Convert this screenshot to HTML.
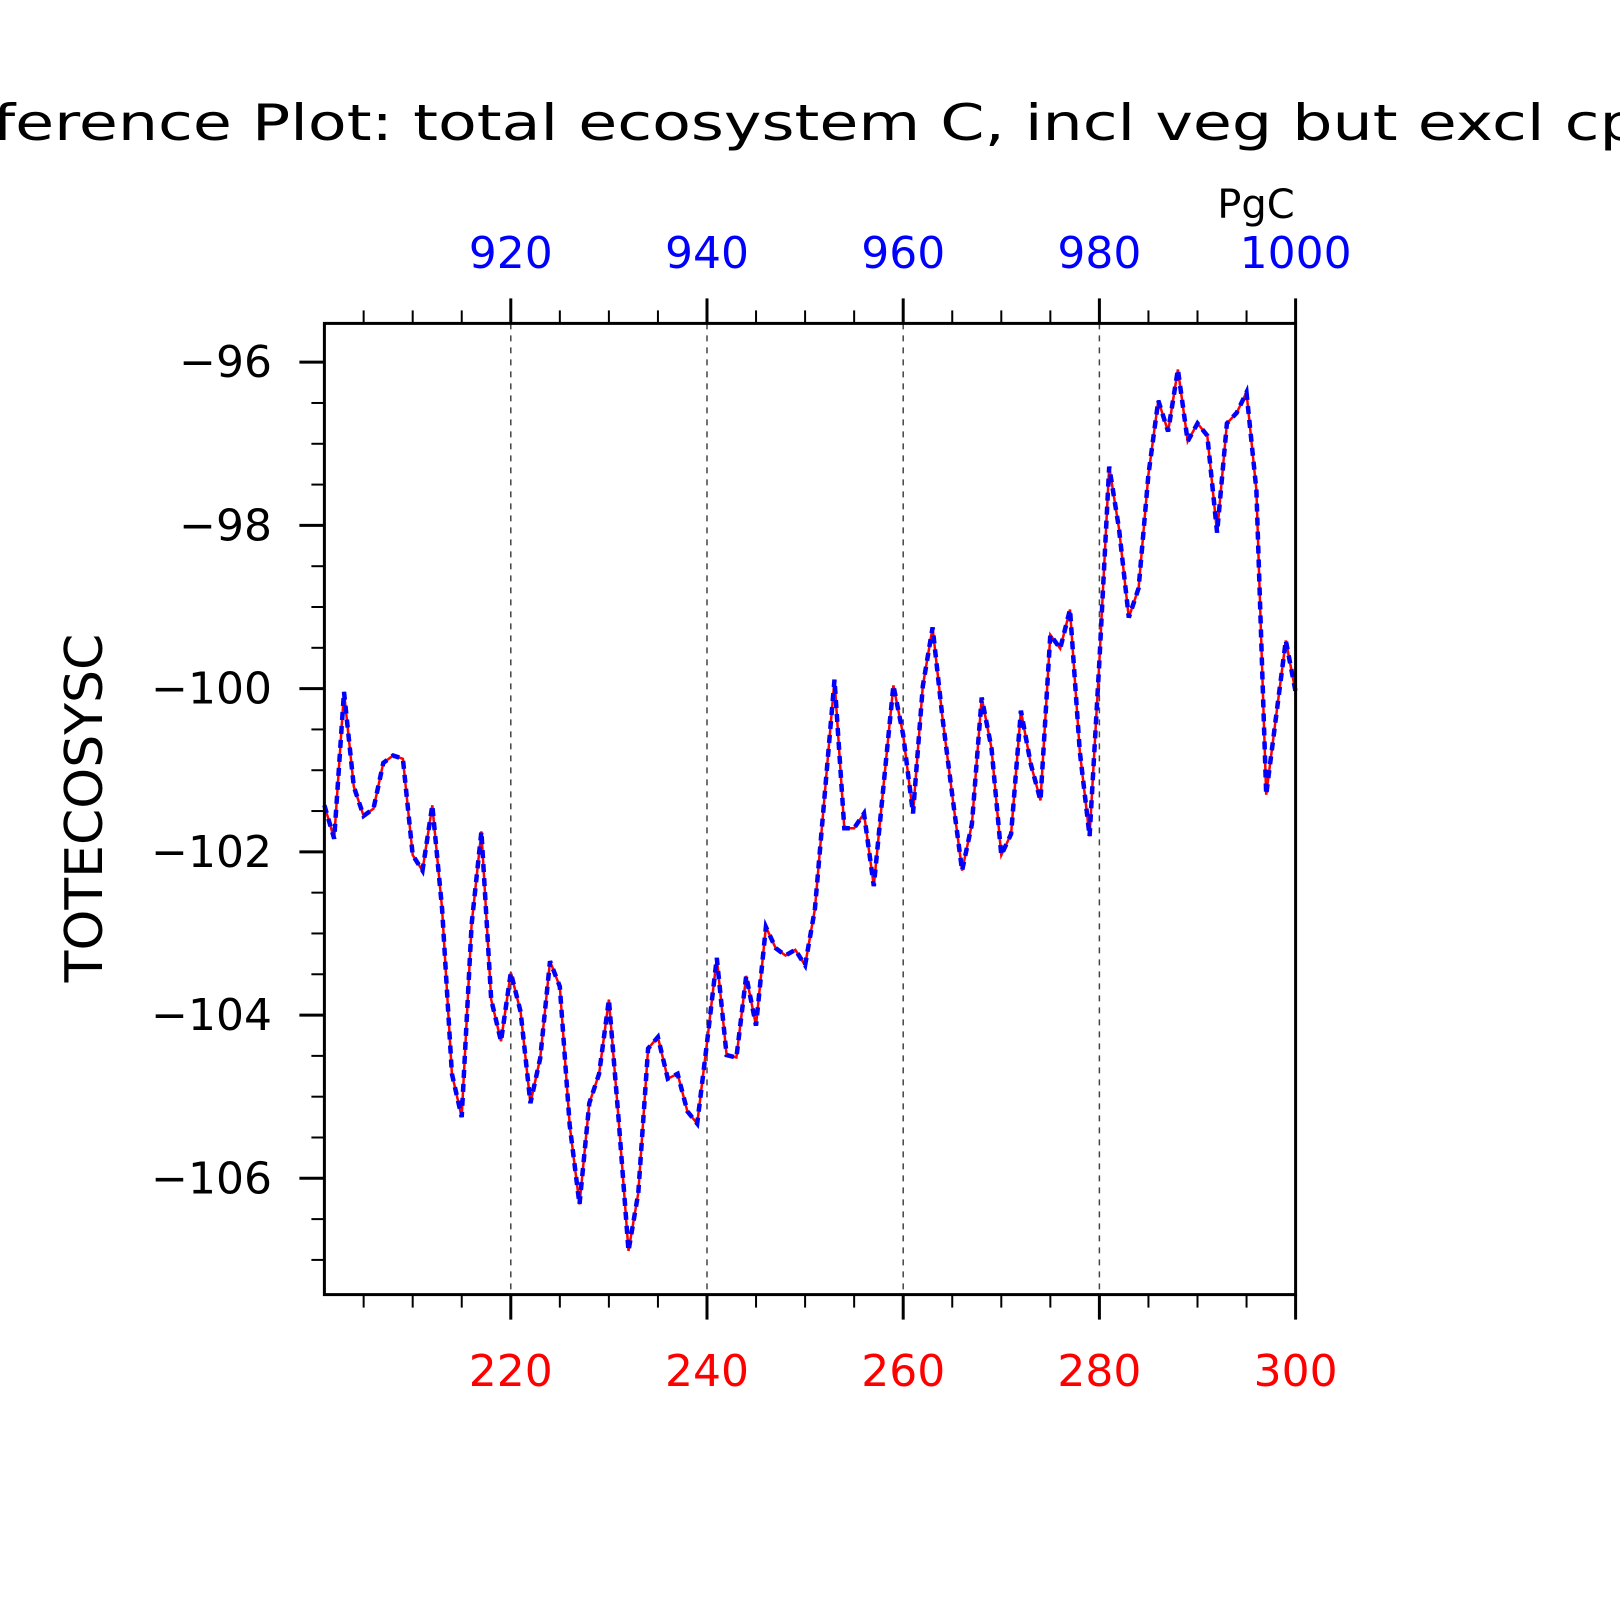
<!DOCTYPE html>
<html><head><meta charset="utf-8"><style>html,body{margin:0;padding:0;background:#fff}svg{display:block}</style></head>
<body>
<svg id="chart" width="1620" height="1620" xmlns="http://www.w3.org/2000/svg" font-family="'DejaVu Sans','Liberation Sans',sans-serif">
<text x="-95" y="140" font-size="50" textLength="1830" lengthAdjust="spacingAndGlyphs">Difference Plot: total ecosystem C, incl veg but excl cpool</text>
<text transform="translate(102,808) rotate(-90)" text-anchor="middle" font-size="52">TOTECOSYSC</text>
<text x="1256" y="218" text-anchor="middle" font-size="40">PgC</text>
<g id="grid"></g><g id="axes"></g><g id="series"></g>
<rect x="324.4" y="323.4" width="971.2" height="971.2" fill="none" stroke="#000" stroke-width="3"/>
</svg>
<script>
const years=[];for(let y=201;y<=300;y++)years.push(y);
const valuesA=[-101.43,-101.84,-100.04,-101.2,-101.56,-101.47,-100.91,-100.82,-100.86,-102.04,-102.23,-101.43,-102.70,-104.72,-105.25,-102.89,-101.75,-103.81,-104.32,-103.48,-103.96,-105.08,-104.53,-103.34,-103.65,-105.35,-106.32,-105.08,-104.72,-103.81,-105.29,-106.89,-106.18,-104.41,-104.27,-104.78,-104.72,-105.18,-105.33,-104.34,-103.30,-104.49,-104.52,-103.52,-104.13,-102.92,-103.18,-103.27,-103.20,-103.39,-102.70,-101.30,-99.89,-101.71,-101.71,-101.53,-102.42,-101.18,-99.96,-100.57,-101.53,-99.97,-99.25,-100.35,-101.30,-102.23,-101.66,-100.11,-100.73,-102.04,-101.78,-100.27,-100.92,-101.37,-99.34,-99.51,-99.03,-100.77,-101.81,-99.66,-97.28,-98.04,-99.13,-98.77,-97.38,-96.47,-96.85,-96.09,-96.97,-96.75,-96.90,-98.09,-96.75,-96.62,-96.37,-97.57,-101.30,-100.35,-99.41,-100.04];
const valuesB=valuesA.slice();
const xTicks=[220,240,260,280,300];
const topTickLabels=["920","940","960","980","1000"];
const yTicks=[-96,-98,-100,-102,-104,-106];
const yLabels=["\u221296","\u221298","\u2212100","\u2212102","\u2212104","\u2212106"];
const L=324.4,R=1295.6,T=323.4,B=1294.6;
const X=yr=>L+(yr-201)*(R-L)/99;
const Yv=v=>T+(-95.525-v)*(B-T)/11.9;
const NS="http://www.w3.org/2000/svg";
function mk(tag,attrs,parent){const e=document.createElementNS(NS,tag);for(const k in attrs)e.setAttribute(k,attrs[k]);parent.appendChild(e);return e;}
const grid=document.getElementById('grid'),axes=document.getElementById('axes'),ser=document.getElementById('series');
xTicks.forEach((t,i)=>{
  if(t<300){const g=mk('line',{x1:X(t),x2:X(t),y1:T,y2:B,stroke:'#444','stroke-width':1.5,'stroke-dasharray':'6 6'},grid);
  
  }
  const bl=mk('text',{x:X(t),y:1386,'text-anchor':'middle','font-size':44,fill:'#f00'},axes);bl.textContent=t;
  
  
  const tl=mk('text',{x:X(t),y:268,'text-anchor':'middle','font-size':44,fill:'#00f'},axes);tl.textContent=topTickLabels[i];
  
  
});
for(let t=205;t<=300;t+=5){const maj=t%20===0;const len=maj?25:13;
  const a=mk('line',{x1:X(t),x2:X(t),y1:B,y2:B+len,stroke:'#000','stroke-width':maj?3:2},axes);
  
  
  const b=mk('line',{x1:X(t),x2:X(t),y1:T,y2:T-len,stroke:'#000','stroke-width':maj?3:2},axes);
  
  }
for(let v=-96;v>=-107;v-=0.5){const maj=Math.abs(v%2)<1e-9;const len=maj?25:13;
  const a=mk('line',{x1:L,x2:L-len,y1:Yv(v),y2:Yv(v),stroke:'#000','stroke-width':maj?3:2},axes);
  
  }
yTicks.forEach((t,i)=>{const e=mk('text',{x:272,y:Yv(t)+15,'text-anchor':'end','font-size':44},axes);e.textContent=yLabels[i];
  
  });
const pA=years.map((y,i)=>X(y).toFixed(1)+','+Yv(valuesA[i]).toFixed(1)).join(' ');
const pB=years.map((y,i)=>X(y).toFixed(1)+','+Yv(valuesB[i]).toFixed(1)).join(' ');
const la=mk('polyline',{points:pA,fill:'none',stroke:'#f00','stroke-width':2.5},ser);


const lb=mk('polyline',{points:pB,fill:'none',stroke:'#00f','stroke-width':4.5,'stroke-dasharray':'8 6'},ser);


</script>
</body></html>
